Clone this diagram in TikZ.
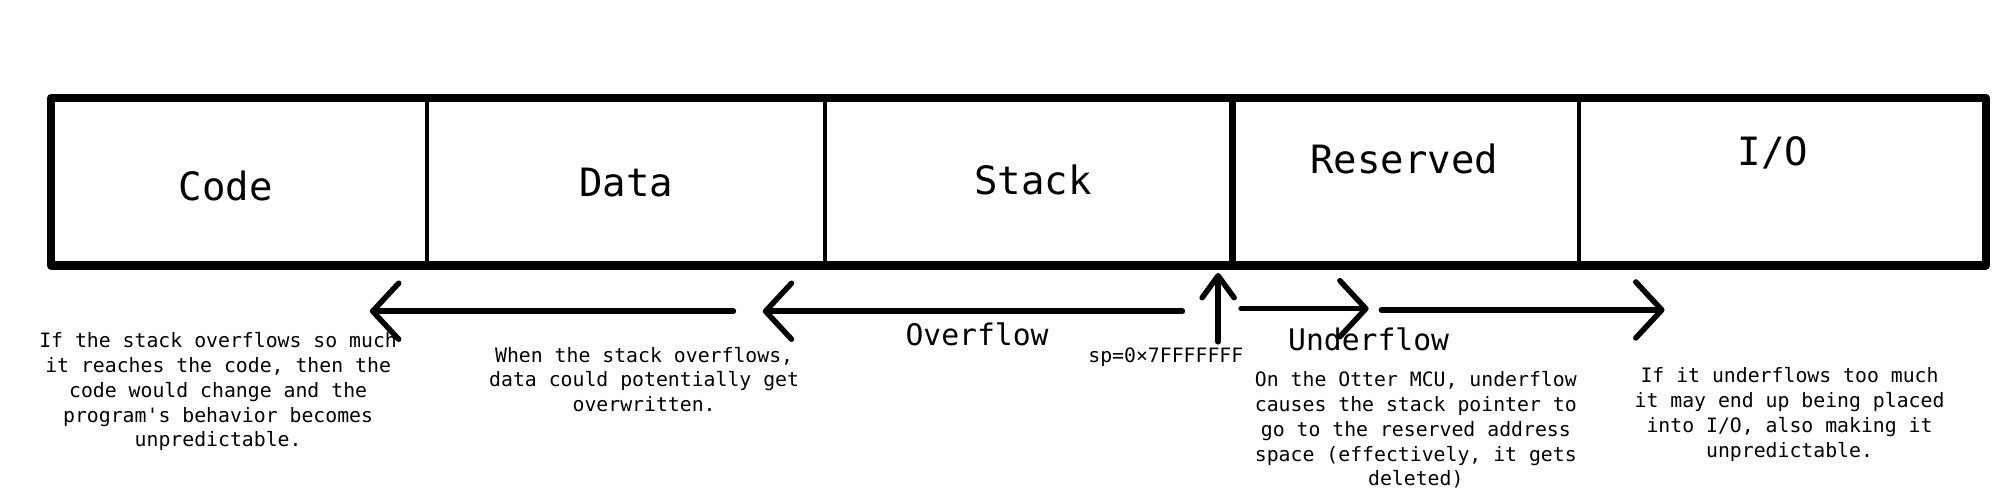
\documentclass[tikz,border=0pt]{standalone}
\usepackage{fontspec}
\newfontfamily\monofont{DejaVu Sans Mono}
\usetikzlibrary{arrows.meta}
\begin{document}
\begin{tikzpicture}[x=1.2755pt,y=-1.2755pt,
  outerbox/.style={line width=8.5pt, line join=round},
  thindiv/.style={line width=4pt},
  thickdiv/.style={line width=7pt},
  lbl/.style={font=\monofont\fontsize{39}{47}\selectfont, inner sep=0pt},
  midlbl/.style={font=\monofont\fontsize{29.7}{36}\selectfont, inner sep=0pt},
  note/.style={font=\monofont\fontsize{19.8}{24.9}\selectfont, align=center, inner sep=0pt},
  arr/.style={line width=5.5pt, line cap=round, -{Straight Barb[length=26pt,width=56pt,round]}},
  uparr/.style={line width=5.5pt, line cap=round, -{Straight Barb[length=22pt,width=32pt,round]}},
  ]
\useasboundingbox (0,0) rectangle (1568,392);
% memory map
\coordinate (tl) at (40,77);
\coordinate (br) at (1557,208);
\draw[outerbox] (tl) rectangle (br);
\draw[thindiv] (335,77) -- (335,208);
\draw[thindiv] (647,77) -- (647,208);
\draw[thickdiv] (966,77) -- (966,208);
\draw[thindiv] (1238,77) -- (1238,208);
\node[lbl] (code) at (177,146) {Code};
\node[lbl] (data) at (491,143) {Data};
\node[lbl] (stack) at (810,141) {Stack};
\node[lbl] (res) at (1101,125) {Reserved};
\node[lbl] (io) at (1390,120) {I/O};
% arrows
\coordinate (a1s) at (575,244); \coordinate (a1e) at (290,244);
\coordinate (a2s) at (927,244); \coordinate (a2e) at (598,244);
\coordinate (vs) at (955,268); \coordinate (ve) at (955,214);
\coordinate (a3s) at (973,242); \coordinate (a3e) at (1073,242);
\coordinate (a4s) at (1083,243); \coordinate (a4e) at (1305,243);
\draw[arr] (a1s) -- (a1e);
\draw[arr] (a2s) -- (a2e);
\draw[uparr] (vs) -- (ve);
\draw[arr] (a3s) -- (a3e);
\draw[arr] (a4s) -- (a4e);
% labels
\node[midlbl] (over) at (766,262) {Overflow};
\node[midlbl] (under) at (1073,266) {Underflow};
\node[note] (sp) at (914,280) {sp=0×7FFFFFFF};
\node[note] (n1) at (171,307) {If the stack overflows so much\\it reaches the code, then the\\code would change and the\\program's behavior becomes\\unpredictable.};
\node[note] (n2) at (505,297.5) {When the stack overflows,\\data could potentially get\\overwritten.};
\node[note] (n3) at (1110,337) {On the Otter MCU, underflow\\causes the stack pointer to\\go to the reserved address\\space (effectively, it gets\\deleted)};
\node[note] (n4) at (1403,325) {If it underflows too much\\it may end up being placed\\into I/O, also making it\\unpredictable.};
\end{tikzpicture}
\end{document}
